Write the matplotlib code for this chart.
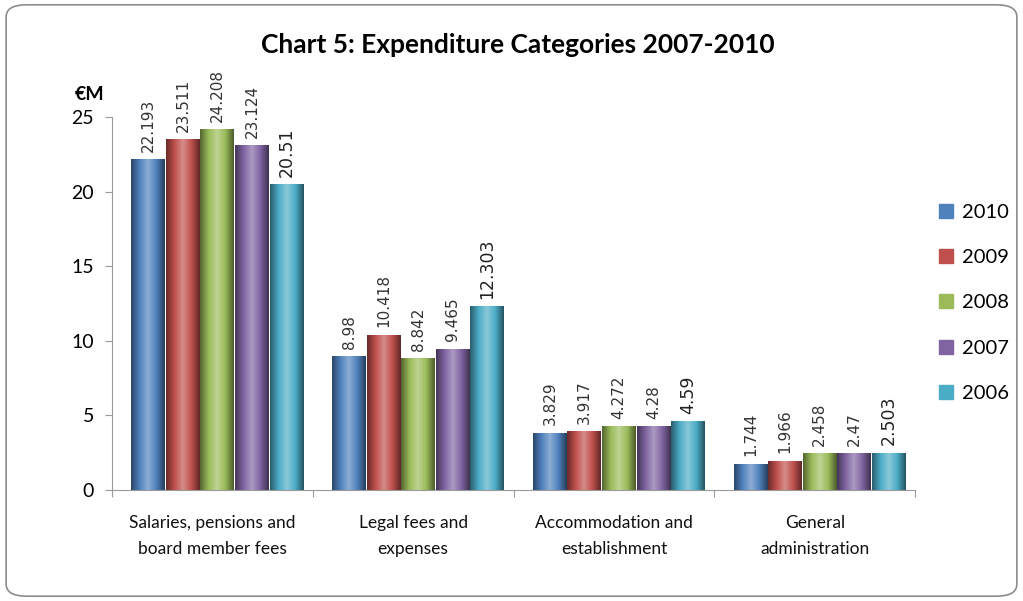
import matplotlib.pyplot as plt
import numpy as np
from matplotlib.patches import FancyBboxPatch
from matplotlib.colors import LinearSegmentedColormap, to_rgb

categories = ['Salaries, pensions and\nboard member fees', 'Legal fees and\nexpenses',
              'Accommodation and\nestablishment', 'General\nadministration']
years = ['2010', '2009', '2008', '2007', '2006']
v2010 = [22.193, 8.98, 3.829, 1.744]
v2009 = [23.511, 10.418, 3.917, 1.966]
v2008 = [24.208, 8.842, 4.272, 2.458]
v2007 = [23.124, 9.465, 4.28, 2.47]
v2006 = [20.51, 12.303, 4.59, 2.503]
labels2010 = ['22.193', '8.98', '3.829', '1.744']
labels2009 = ['23.511', '10.418', '3.917', '1.966']
labels2008 = ['24.208', '8.842', '4.272', '2.458']
labels2007 = ['23.124', '9.465', '4.28', '2.47']
labels2006 = ['20.51', '12.303', '4.59', '2.503']
series = [v2010, v2009, v2008, v2007, v2006]
series_labels = [labels2010, labels2009, labels2008, labels2007, labels2006]
colors = ['#4F81BD', '#C0504D', '#9BBB59', '#8064A2', '#4BACC6']

fig = plt.figure(figsize=(10.23, 6.01), dpi=100)
border = FancyBboxPatch((0.006, 0.008), 0.988, 0.984, boxstyle='round,pad=0,rounding_size=0.02',
                        transform=fig.transFigure, fill=False, edgecolor='#8c8c8c', linewidth=1.2)
fig.patches.append(border)

ax = fig.add_axes([0.1095, 0.185, 0.785, 0.62])
ax.set_xlim(-0.5, 3.5)
ax.set_ylim(0, 25)

w = 0.172
x = np.arange(len(categories))
grad = np.linspace(0, 1, 64)


def shade(c):
    r = np.array(to_rgb(c))
    dark = r * 0.55
    light = r + (1 - r) * 0.35
    return LinearSegmentedColormap.from_list('s', [dark, r, light, r, dark * 0.9])


for i, (vals, labs, c) in enumerate(zip(series, series_labels, colors)):
    pos = x - 2 * w + i * w + 0.025
    bars = ax.bar(pos, vals, w * 0.98, color=c, zorder=2)
    for b, v, lab in zip(bars, vals, labs):
        x0 = b.get_x()
        im = ax.imshow(grad[None, :], cmap=shade(c), aspect='auto',
                       extent=[x0, x0 + b.get_width(), 0, v], zorder=3)
        im.set_clip_path(b)
        big = i == 4
        ax.text(b.get_x() + b.get_width() / 2, v + 0.5, lab, rotation=90, ha='center', va='bottom',
                fontsize=12.5 if big else 11, color='#222222' if big else '#333333',
                family='DejaVu Sans', clip_on=False)

ax.set_xlim(-0.5, 3.5)
ax.set_ylim(0, 25)
for s in ['top', 'right']:
    ax.spines[s].set_visible(False)
ax.spines['left'].set_color('#9a9a9a')
ax.spines['bottom'].set_color('#9a9a9a')
ax.set_yticks([0, 5, 10, 15, 20, 25])
ax.tick_params(axis='y', labelsize=14, colors='#9a9a9a', labelcolor='black', length=5, pad=8)
ax.set_xticks([-0.5, 0.5, 1.5, 2.5, 3.5])
ax.set_xticklabels([])
ax.tick_params(axis='x', colors='#9a9a9a', length=5)
for xi, cat in zip(x, categories):
    ax.text(xi, -1.7, cat, ha='center', va='top', fontsize=12.5, family='Lato', color='#111111',
            linespacing=1.75, clip_on=False)
for t in ax.get_yticklabels():
    t.set_family('Lato')

fig.text(0.073, 0.833, '€M', fontsize=14, fontweight='bold', family='Lato')
fig.text(0.506, 0.925, 'Chart 5: Expenditure Categories 2007-2010', ha='center', va='center',
         fontsize=19, fontweight='bold', family='Lato')

handles = [plt.Rectangle((0, 0), 1, 1, color=c) for c in colors]
leg = fig.legend(handles, years, loc='center left', bbox_to_anchor=(0.9, 0.496), frameon=False,
                 handlelength=0.7, handleheight=0.7, labelspacing=1.4, handletextpad=0.45,
                 prop={'family': 'Lato', 'size': 14.5})

fig.savefig('out.png', dpi=100)
